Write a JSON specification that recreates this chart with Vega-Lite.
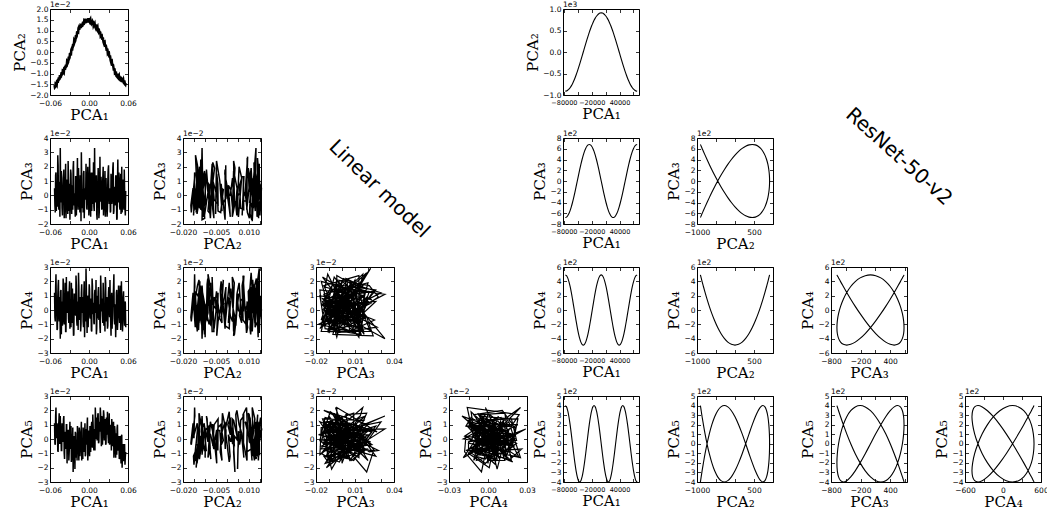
{
"$schema":"https://vega.github.io/schema/vega-lite/v6.json",
"padding":{"left":12,"top":0,"right":0,"bottom":0},
"background":"white",
"config":{
 "view":{"stroke":"black","strokeWidth":1},
 "axis":{"grid":false,"domain":false,"tickSize":-3.5,"tickColor":"black","tickWidth":0.8,"labelPadding":5.5,"labelFont":"DejaVu Sans","labelFontSize":7.5,"labelColor":"black","labelOverlap":false,"labelFlush":false,"labelBound":false,"titleFont":"DejaVu Serif","titleFontSize":15,"titleFontWeight":"normal","titleColor":"black","titlePadding":2},
 "axisBottom":{"labelPadding":7.8,"titlePadding":1},
 "axisTop":{"labels":false},
 "axisRight":{"labels":false},
 "title":{"font":"DejaVu Sans","fontSize":7.5,"fontWeight":"normal","anchor":"start","offset":-3,"color":"black","frame":"group"},
 "line":{"color":"black","clip":true}
},
"datasets":{
"lin":[
{"i":0,"p1":-0.053,"p2":-0.0154,"p3":0.005,"p4":0.012,"p5":0.011},
{"i":1,"p1":-0.0519,"p2":-0.0162,"p3":-0.012,"p4":-0.008,"p5":-0.004},
{"i":2,"p1":-0.0508,"p2":-0.0147,"p3":0.016,"p4":0.025,"p5":0.022},
{"i":3,"p1":-0.0497,"p2":-0.0153,"p3":0.002,"p4":0.003,"p5":0.001},
{"i":4,"p1":-0.0486,"p2":-0.0133,"p3":-0.008,"p4":-0.013,"p5":0.008},
{"i":5,"p1":-0.0475,"p2":-0.0134,"p3":0.021,"p4":0.017,"p5":-0.009},
{"i":6,"p1":-0.0464,"p2":-0.0119,"p3":-0.010,"p4":-0.004,"p5":0.012},
{"i":7,"p1":-0.0453,"p2":-0.0125,"p3":0.009,"p4":0.009,"p5":-0.003},
{"i":8,"p1":-0.0442,"p2":-0.0113,"p3":0.033,"p4":-0.020,"p5":0.016},
{"i":9,"p1":-0.0431,"p2":-0.0115,"p3":-0.005,"p4":0.014,"p5":0.003},
{"i":10,"p1":-0.042,"p2":-0.0094,"p3":0.012,"p4":0.001,"p5":-0.008},
{"i":11,"p1":-0.0409,"p2":-0.0102,"p3":-0.014,"p4":-0.011,"p5":0.009},
{"i":12,"p1":-0.0398,"p2":-0.0087,"p3":0.003,"p4":0.022,"p5":-0.001},
{"i":13,"p1":-0.0387,"p2":-0.0093,"p3":0.018,"p4":-0.006,"p5":0.016},
{"i":14,"p1":-0.0376,"p2":-0.0073,"p3":-0.009,"p4":0.007,"p5":-0.014},
{"i":15,"p1":-0.0365,"p2":-0.0074,"p3":0.006,"p4":0.019,"p5":0.003},
{"i":16,"p1":-0.0354,"p2":-0.0059,"p3":-0.016,"p4":-0.015,"p5":-0.007},
{"i":17,"p1":-0.0343,"p2":-0.0065,"p3":0.011,"p4":0.004,"p5":0.010},
{"i":18,"p1":-0.0332,"p2":-0.0049,"p3":0.000,"p4":-0.002,"p5":-0.002},
{"i":19,"p1":-0.0321,"p2":-0.0047,"p3":0.024,"p4":0.013,"p5":0.006},
{"i":20,"p1":-0.031,"p2":-0.0022,"p3":-0.011,"p4":-0.009,"p5":-0.015},
{"i":21,"p1":-0.0299,"p2":-0.0026,"p3":0.008,"p4":0.020,"p5":0.003},
{"i":22,"p1":-0.0288,"p2":-0.0007,"p3":-0.003,"p4":0.002,"p5":-0.007},
{"i":23,"p1":-0.0277,"p2":-0.0009,"p3":0.015,"p4":-0.012,"p5":0.009},
{"i":24,"p1":-0.0266,"p2":0.0015,"p3":-0.013,"p4":0.008,"p5":-0.012},
{"i":25,"p1":-0.0255,"p2":0.0018,"p3":0.004,"p4":0.015,"p5":-0.002},
{"i":26,"p1":-0.0244,"p2":0.0037,"p3":0.019,"p4":-0.005,"p5":-0.023},
{"i":27,"p1":-0.0233,"p2":0.0035,"p3":-0.007,"p4":-0.017,"p5":0.002},
{"i":28,"p1":-0.0222,"p2":0.0051,"p3":0.001,"p4":0.011,"p5":-0.007},
{"i":29,"p1":-0.0211,"p2":0.0053,"p3":-0.015,"p4":0.000,"p5":0.005},
{"i":30,"p1":-0.02,"p2":0.0078,"p3":0.013,"p4":0.024,"p5":-0.013},
{"i":31,"p1":-0.0189,"p2":0.0074,"p3":-0.002,"p4":-0.007,"p5":-0.001},
{"i":32,"p1":-0.0178,"p2":0.0093,"p3":0.026,"p4":0.006,"p5":0.009},
{"i":33,"p1":-0.0167,"p2":0.0091,"p3":-0.010,"p4":-0.014,"p5":-0.009},
{"i":34,"p1":-0.0156,"p2":0.0115,"p3":0.007,"p4":0.016,"p5":-0.015},
{"i":35,"p1":-0.0145,"p2":0.0112,"p3":-0.006,"p4":-0.001,"p5":0.005},
{"i":36,"p1":-0.0134,"p2":0.0125,"p3":0.014,"p4":0.009,"p5":-0.006},
{"i":37,"p1":-0.0123,"p2":0.0116,"p3":-0.018,"p4":-0.010,"p5":0.003},
{"i":38,"p1":-0.0112,"p2":0.0126,"p3":0.009,"p4":0.018,"p5":-0.015},
{"i":39,"p1":-0.0101,"p2":0.0122,"p3":0.002,"p4":0.003,"p5":0.000},
{"i":40,"p1":-0.009,"p2":0.014,"p3":-0.012,"p4":-0.008,"p5":0.008},
{"i":41,"p1":-0.0079,"p2":0.013,"p3":0.017,"p4":0.012,"p5":-0.009},
{"i":42,"p1":-0.0068,"p2":0.0143,"p3":-0.004,"p4":-0.019,"p5":0.000},
{"i":43,"p1":-0.0057,"p2":0.0133,"p3":0.005,"p4":0.005,"p5":-0.012},
{"i":44,"p1":-0.0046,"p2":0.0148,"p3":0.022,"p4":0.029,"p5":0.007},
{"i":45,"p1":-0.0035,"p2":0.0143,"p3":-0.009,"p4":-0.003,"p5":-0.004},
{"i":46,"p1":-0.0024,"p2":0.0154,"p3":0.000,"p4":0.010,"p5":0.015},
{"i":47,"p1":-0.0013,"p2":0.0143,"p3":0.011,"p4":-0.012,"p5":-0.007},
{"i":48,"p1":-0.0002,"p2":0.0151,"p3":-0.014,"p4":0.007,"p5":0.005},
{"i":49,"p1":0.0009,"p2":0.014,"p3":0.026,"p4":0.014,"p5":-0.012},
{"i":50,"p1":0.002,"p2":0.0152,"p3":-0.003,"p4":-0.006,"p5":0.005},
{"i":51,"p1":0.0031,"p2":0.0135,"p3":0.008,"p4":0.002,"p5":-0.001},
{"i":52,"p1":0.0042,"p2":0.0142,"p3":-0.011,"p4":-0.015,"p5":0.012},
{"i":53,"p1":0.0053,"p2":0.0127,"p3":0.016,"p4":0.017,"p5":-0.006},
{"i":54,"p1":0.0064,"p2":0.0138,"p3":0.003,"p4":0.004,"p5":0.009},
{"i":55,"p1":0.0075,"p2":0.0128,"p3":-0.008,"p4":-0.009,"p5":-0.008},
{"i":56,"p1":0.0086,"p2":0.0133,"p3":0.033,"p4":0.011,"p5":0.007},
{"i":57,"p1":0.0097,"p2":0.0116,"p3":-0.005,"p4":-0.002,"p5":0.022},
{"i":58,"p1":0.0108,"p2":0.0118,"p3":0.010,"p4":0.021,"p5":0.000},
{"i":59,"p1":0.0119,"p2":0.0106,"p3":-0.013,"p4":-0.013,"p5":0.015},
{"i":60,"p1":0.013,"p2":0.0117,"p3":0.006,"p4":0.006,"p5":0.002},
{"i":61,"p1":0.0141,"p2":0.0098,"p3":0.019,"p4":0.013,"p5":0.018},
{"i":62,"p1":0.0152,"p2":0.0103,"p3":-0.016,"p4":-0.007,"p5":-0.002},
{"i":63,"p1":0.0163,"p2":0.0084,"p3":0.002,"p4":0.000,"p5":0.012},
{"i":64,"p1":0.0174,"p2":0.009,"p3":-0.004,"p4":-0.016,"p5":0.022},
{"i":65,"p1":0.0185,"p2":0.0076,"p3":0.013,"p4":0.015,"p5":0.005},
{"i":66,"p1":0.0196,"p2":0.0077,"p3":-0.010,"p4":0.008,"p5":0.016},
{"i":67,"p1":0.0207,"p2":0.0058,"p3":0.007,"p4":-0.004,"p5":-0.004},
{"i":68,"p1":0.0218,"p2":0.0056,"p3":0.020,"p4":0.019,"p5":0.010},
{"i":69,"p1":0.0229,"p2":0.0041,"p3":-0.007,"p4":-0.011,"p5":0.017},
{"i":70,"p1":0.024,"p2":0.0048,"p3":0.004,"p4":0.003,"p5":0.001},
{"i":71,"p1":0.0251,"p2":0.0025,"p3":-0.015,"p4":0.023,"p5":0.014},
{"i":72,"p1":0.0262,"p2":0.0026,"p3":0.012,"p4":-0.008,"p5":-0.003},
{"i":73,"p1":0.0273,"p2":0.0005,"p3":0.001,"p4":0.009,"p5":0.010},
{"i":74,"p1":0.0284,"p2":0.0011,"p3":-0.009,"p4":-0.013,"p5":0.019},
{"i":75,"p1":0.0295,"p2":-0.0005,"p3":0.018,"p4":0.005,"p5":0.001},
{"i":76,"p1":0.0306,"p2":-0.0004,"p3":-0.002,"p4":0.016,"p5":0.006},
{"i":77,"p1":0.0317,"p2":-0.0025,"p3":0.005,"p4":-0.005,"p5":-0.004},
{"i":78,"p1":0.0328,"p2":-0.0028,"p3":-0.012,"p4":0.001,"p5":0.010},
{"i":79,"p1":0.0339,"p2":-0.0046,"p3":0.015,"p4":-0.018,"p5":0.002},
{"i":80,"p1":0.035,"p2":-0.004,"p3":-0.006,"p4":0.012,"p5":0.014},
{"i":81,"p1":0.0361,"p2":-0.0064,"p3":0.009,"p4":-0.003,"p5":-0.005},
{"i":82,"p1":0.0372,"p2":-0.0064,"p3":0.023,"p4":0.007,"p5":0.005},
{"i":83,"p1":0.0383,"p2":-0.0086,"p3":-0.011,"p4":0.025,"p5":-0.013},
{"i":84,"p1":0.0394,"p2":-0.0081,"p3":0.003,"p4":-0.010,"p5":0.009},
{"i":85,"p1":0.0405,"p2":-0.0098,"p3":-0.005,"p4":0.004,"p5":-0.001},
{"i":86,"p1":0.0416,"p2":-0.0098,"p3":0.014,"p4":-0.006,"p5":0.004},
{"i":87,"p1":0.0427,"p2":-0.0113,"p3":-0.017,"p4":0.014,"p5":-0.011},
{"i":88,"p1":0.0438,"p2":-0.011,"p3":0.008,"p4":-0.014,"p5":0.010},
{"i":89,"p1":0.0449,"p2":-0.0121,"p3":0.000,"p4":0.002,"p5":-0.007},
{"i":90,"p1":0.046,"p2":-0.011,"p3":0.016,"p4":0.010,"p5":0.002},
{"i":91,"p1":0.0471,"p2":-0.0127,"p3":-0.008,"p4":-0.009,"p5":-0.012},
{"i":92,"p1":0.0482,"p2":-0.0121,"p3":0.006,"p4":0.017,"p5":-0.003},
{"i":93,"p1":0.0493,"p2":-0.0136,"p3":-0.013,"p4":-0.002,"p5":-0.017},
{"i":94,"p1":0.0504,"p2":-0.0125,"p3":0.020,"p4":0.006,"p5":0.003},
{"i":95,"p1":0.0515,"p2":-0.0135,"p3":-0.004,"p4":-0.015,"p5":-0.010},
{"i":96,"p1":0.0526,"p2":-0.0129,"p3":0.011,"p4":0.009,"p5":-0.004},
{"i":97,"p1":0.0537,"p2":-0.0144,"p3":-0.010,"p4":0.000,"p5":-0.015},
{"i":98,"p1":0.0548,"p2":-0.0141,"p3":0.004,"p4":-0.011,"p5":-0.004},
{"i":99,"p1":0.0559,"p2":-0.0152,"p3":-0.014,"p4":0.005,"p5":-0.012},
{"i":0.5,"p1":-0.05245,"p2":-0.0164,"p3":-0.007,"p4":-0.005,"p5":-0.003},
{"i":1.5,"p1":-0.05135,"p2":-0.0146,"p3":0.014,"p4":0.016,"p5":0.016},
{"i":2.5,"p1":-0.05025,"p2":-0.015,"p3":-0.011,"p4":0.002,"p5":0.001},
{"i":3.5,"p1":-0.04915,"p2":-0.0135,"p3":0.006,"p4":-0.014,"p5":0.011},
{"i":4.5,"p1":-0.04805,"p2":-0.0143,"p3":0.028,"p4":0.009,"p5":-0.008},
{"i":5.5,"p1":-0.04695,"p2":-0.0127,"p3":-0.004,"p4":0.021,"p5":0.008},
{"i":6.5,"p1":-0.04585,"p2":-0.0127,"p3":0.009,"p4":-0.008,"p5":0.018},
{"i":7.5,"p1":-0.04475,"p2":-0.0108,"p3":-0.015,"p4":0.004,"p5":-0.003},
{"i":8.5,"p1":-0.04365,"p2":-0.0117,"p3":0.003,"p4":0.013,"p5":0.005},
{"i":9.5,"p1":-0.04255,"p2":-0.0102,"p3":0.017,"p4":-0.017,"p5":-0.008},
{"i":10.5,"p1":-0.04145,"p2":-0.0104,"p3":-0.009,"p4":0.006,"p5":0.011},
{"i":11.5,"p1":-0.04035,"p2":-0.0086,"p3":0.002,"p4":-0.002,"p5":-0.002},
{"i":12.5,"p1":-0.03925,"p2":-0.009,"p3":0.012,"p4":0.018,"p5":0.014},
{"i":13.5,"p1":-0.03815,"p2":-0.0075,"p3":-0.016,"p4":-0.010,"p5":-0.010},
{"i":14.5,"p1":-0.03705,"p2":-0.0083,"p3":0.008,"p4":0.003,"p5":0.005},
{"i":15.5,"p1":-0.03595,"p2":-0.0067,"p3":0.022,"p4":-0.015,"p5":-0.002},
{"i":16.5,"p1":-0.03485,"p2":-0.0067,"p3":-0.006,"p4":0.023,"p5":0.010},
{"i":17.5,"p1":-0.03375,"p2":-0.0046,"p3":0.000,"p4":0.000,"p5":-0.017},
{"i":18.5,"p1":-0.03265,"p2":-0.0051,"p3":-0.013,"p4":0.008,"p5":0.002},
{"i":19.5,"p1":-0.03155,"p2":-0.0032,"p3":0.010,"p4":-0.006,"p5":0.006},
{"i":20.5,"p1":-0.03045,"p2":-0.003,"p3":0.005,"p4":0.014,"p5":-0.009},
{"i":21.5,"p1":-0.02935,"p2":-0.0008,"p3":-0.017,"p4":-0.013,"p5":0.012},
{"i":22.5,"p1":-0.02825,"p2":-0.0008,"p3":0.018,"p4":0.005,"p5":-0.004},
{"i":23.5,"p1":-0.02715,"p2":0.0011,"p3":-0.002,"p4":0.019,"p5":-0.016},
{"i":24.5,"p1":-0.02605,"p2":0.0007,"p3":0.007,"p4":-0.009,"p5":0.003},
{"i":25.5,"p1":-0.02495,"p2":0.0027,"p3":-0.010,"p4":0.002,"p5":0.008},
{"i":26.5,"p1":-0.02385,"p2":0.0031,"p3":0.024,"p4":-0.018,"p5":-0.009},
{"i":27.5,"p1":-0.02275,"p2":0.0054,"p3":0.001,"p4":0.011,"p5":-0.002},
{"i":28.5,"p1":-0.02165,"p2":0.0049,"p3":-0.008,"p4":0.007,"p5":-0.021},
{"i":29.5,"p1":-0.02055,"p2":0.0068,"p3":0.013,"p4":-0.004,"p5":0.004},
{"i":30.5,"p1":-0.01945,"p2":0.007,"p3":-0.014,"p4":0.017,"p5":-0.001},
{"i":31.5,"p1":-0.01835,"p2":0.0092,"p3":0.006,"p4":-0.011,"p5":-0.015},
{"i":32.5,"p1":-0.01725,"p2":0.0092,"p3":0.000,"p4":0.004,"p5":0.002},
{"i":33.5,"p1":-0.01615,"p2":0.0111,"p3":0.019,"p4":0.026,"p5":-0.007},
{"i":34.5,"p1":-0.01505,"p2":0.0104,"p3":-0.005,"p4":-0.007,"p5":0.008},
{"i":35.5,"p1":-0.01395,"p2":0.0118,"p3":-0.012,"p4":0.001,"p5":-0.012},
{"i":36.5,"p1":-0.01285,"p2":0.0116,"p3":0.008,"p4":-0.015,"p5":-0.003},
{"i":37.5,"p1":-0.01175,"p2":0.0132,"p3":0.030,"p4":0.012,"p5":0.012},
{"i":38.5,"p1":-0.01065,"p2":0.0121,"p3":-0.009,"p4":-0.002,"p5":-0.009},
{"i":39.5,"p1":-0.00955,"p2":0.0134,"p3":0.004,"p4":0.009,"p5":-0.014},
{"i":40.5,"p1":-0.00845,"p2":0.0129,"p3":0.015,"p4":-0.012,"p5":0.002},
{"i":41.5,"p1":-0.00735,"p2":0.0145,"p3":-0.016,"p4":0.020,"p5":-0.005},
{"i":42.5,"p1":-0.00625,"p2":0.0138,"p3":0.002,"p4":0.003,"p5":0.011},
{"i":43.5,"p1":-0.00515,"p2":0.0149,"p3":-0.003,"p4":-0.008,"p5":-0.011},
{"i":44.5,"p1":-0.00405,"p2":0.0136,"p3":0.011,"p4":0.015,"p5":0.002},
{"i":45.5,"p1":-0.00295,"p2":0.0148,"p3":-0.010,"p4":-0.016,"p5":0.009},
{"i":46.5,"p1":-0.00185,"p2":0.0144,"p3":0.020,"p4":0.006,"p5":-0.015},
{"i":47.5,"p1":-0.00075,"p2":0.0158,"p3":0.005,"p4":0.000,"p5":0.006},
{"i":48.5,"p1":0.00035,"p2":0.0143,"p3":-0.007,"p4":0.018,"p5":-0.004},
{"i":49.5,"p1":0.00145,"p2":0.0149,"p3":0.009,"p4":-0.005,"p5":0.009},
{"i":50.5,"p1":0.00255,"p2":0.0138,"p3":-0.015,"p4":0.008,"p5":-0.009},
{"i":51.5,"p1":0.00365,"p2":0.0147,"p3":0.016,"p4":-0.014,"p5":0.009},
{"i":52.5,"p1":0.00475,"p2":0.0135,"p3":0.001,"p4":0.022,"p5":-0.003},
{"i":53.5,"p1":0.00585,"p2":0.0141,"p3":-0.006,"p4":-0.003,"p5":0.017},
{"i":54.5,"p1":0.00695,"p2":0.0124,"p3":0.023,"p4":0.005,"p5":-0.004},
{"i":55.5,"p1":0.00805,"p2":0.013,"p3":-0.011,"p4":-0.010,"p5":0.006},
{"i":56.5,"p1":0.00915,"p2":0.012,"p3":0.007,"p4":0.014,"p5":-0.008},
{"i":57.5,"p1":0.01025,"p2":0.0128,"p3":-0.002,"p4":0.002,"p5":0.014},
{"i":58.5,"p1":0.01135,"p2":0.0109,"p3":0.014,"p4":-0.017,"p5":0.009},
{"i":59.5,"p1":0.01245,"p2":0.0114,"p3":-0.017,"p4":0.010,"p5":-0.001},
{"i":60.5,"p1":0.01355,"p2":0.0102,"p3":0.003,"p4":-0.006,"p5":0.017},
{"i":61.5,"p1":0.01465,"p2":0.0109,"p3":0.009,"p4":0.016,"p5":-0.003},
{"i":62.5,"p1":0.01575,"p2":0.0094,"p3":-0.012,"p4":0.004,"p5":0.010},
{"i":63.5,"p1":0.01685,"p2":0.0095,"p3":0.027,"p4":-0.012,"p5":0.005},
{"i":64.5,"p1":0.01795,"p2":0.0074,"p3":-0.004,"p4":0.024,"p5":0.017},
{"i":65.5,"p1":0.01905,"p2":0.0076,"p3":0.006,"p4":-0.001,"p5":-0.005},
{"i":66.5,"p1":0.02015,"p2":0.0063,"p3":-0.009,"p4":0.007,"p5":0.013},
{"i":67.5,"p1":0.02125,"p2":0.0068,"p3":0.012,"p4":-0.009,"p5":0.004},
{"i":68.5,"p1":0.02235,"p2":0.0046,"p3":-0.014,"p4":0.011,"p5":0.020},
{"i":69.5,"p1":0.02345,"p2":0.0047,"p3":0.005,"p4":0.003,"p5":-0.001},
{"i":70.5,"p1":0.02455,"p2":0.0031,"p3":0.017,"p4":-0.015,"p5":0.013},
{"i":71.5,"p1":0.02565,"p2":0.0034,"p3":-0.008,"p4":0.019,"p5":-0.004},
{"i":72.5,"p1":0.02675,"p2":0.0016,"p3":0.000,"p4":-0.004,"p5":0.015},
{"i":73.5,"p1":0.02785,"p2":0.0016,"p3":-0.015,"p4":0.006,"p5":0.003},
{"i":74.5,"p1":0.02895,"p2":-0.0007,"p3":0.010,"p4":-0.011,"p5":0.007},
{"i":75.5,"p1":0.03005,"p2":-0.0005,"p3":0.021,"p4":0.013,"p5":-0.003},
{"i":76.5,"p1":0.03115,"p2":-0.002,"p3":-0.006,"p4":0.000,"p5":0.018},
{"i":77.5,"p1":0.03225,"p2":-0.0016,"p3":0.004,"p4":0.021,"p5":-0.001},
{"i":78.5,"p1":0.03335,"p2":-0.004,"p3":-0.011,"p4":-0.008,"p5":0.008},
{"i":79.5,"p1":0.03445,"p2":-0.0041,"p3":0.008,"p4":0.005,"p5":-0.008},
{"i":80.5,"p1":0.03555,"p2":-0.0058,"p3":-0.003,"p4":-0.013,"p5":0.010},
{"i":81.5,"p1":0.03665,"p2":-0.0056,"p3":0.019,"p4":0.009,"p5":0.000},
{"i":82.5,"p1":0.03775,"p2":-0.0075,"p3":-0.013,"p4":0.016,"p5":0.012},
{"i":83.5,"p1":0.03885,"p2":-0.0076,"p3":0.006,"p4":-0.006,"p5":-0.007},
{"i":84.5,"p1":0.03995,"p2":-0.0099,"p3":-0.007,"p4":0.002,"p5":0.006},
{"i":85.5,"p1":0.04105,"p2":-0.0099,"p3":0.013,"p4":-0.019,"p5":-0.013},
{"i":86.5,"p1":0.04215,"p2":-0.0111,"p3":0.002,"p4":0.012,"p5":0.002},
{"i":87.5,"p1":0.04325,"p2":-0.0101,"p3":-0.016,"p4":0.004,"p5":0.008},
{"i":88.5,"p1":0.04435,"p2":-0.0119,"p3":0.025,"p4":-0.007,"p5":-0.008},
{"i":89.5,"p1":0.04545,"p2":-0.0113,"p3":-0.005,"p4":0.017,"p5":-0.001},
{"i":90.5,"p1":0.04655,"p2":-0.0125,"p3":0.007,"p4":-0.002,"p5":-0.014},
{"i":91.5,"p1":0.04765,"p2":-0.0116,"p3":-0.010,"p4":0.008,"p5":0.002},
{"i":92.5,"p1":0.04875,"p2":-0.0129,"p3":0.015,"p4":-0.014,"p5":-0.009},
{"i":93.5,"p1":0.04985,"p2":-0.0123,"p3":0.000,"p4":0.020,"p5":0.002},
{"i":94.5,"p1":0.05095,"p2":-0.014,"p3":-0.012,"p4":0.001,"p5":-0.020},
{"i":95.5,"p1":0.05205,"p2":-0.0133,"p3":0.009,"p4":-0.009,"p5":-0.004},
{"i":96.5,"p1":0.05315,"p2":-0.0142,"p3":-0.004,"p4":0.013,"p5":-0.015},
{"i":97.5,"p1":0.05425,"p2":-0.0132,"p3":0.018,"p4":-0.005,"p5":-0.004},
{"i":98.5,"p1":0.05535,"p2":-0.015,"p3":-0.009,"p4":0.006,"p5":-0.018},
{"i":99.5,"p1":0.05645,"p2":-0.0144,"p3":0.003,"p4":-0.012,"p5":-0.009}
],
"res":[
{"k":0,"r1":-77000,"r2":-910,"r3":-680,"r4":490,"r5":400},
{"k":1,"r1":-74417,"r2":-905,"r3":-672,"r4":479,"r5":386},
{"k":2,"r1":-71833,"r2":-890,"r3":-647,"r4":448,"r5":346},
{"k":3,"r1":-69250,"r2":-866,"r3":-606,"r4":396,"r5":283},
{"k":4,"r1":-66667,"r2":-831,"r3":-550,"r4":328,"r5":200},
{"k":5,"r1":-64083,"r2":-788,"r3":-481,"r4":245,"r5":104},
{"k":6,"r1":-61500,"r2":-736,"r3":-400,"r4":151,"r5":0},
{"k":7,"r1":-58917,"r2":-676,"r3":-309,"r4":51,"r5":-104},
{"k":8,"r1":-56333,"r2":-609,"r3":-210,"r4":-51,"r5":-200},
{"k":9,"r1":-53750,"r2":-535,"r3":-106,"r4":-151,"r5":-283},
{"k":10,"r1":-51167,"r2":-455,"r3":0,"r4":-245,"r5":-346},
{"k":11,"r1":-48583,"r2":-370,"r3":106,"r4":-328,"r5":-386},
{"k":12,"r1":-46000,"r2":-281,"r3":210,"r4":-396,"r5":-400},
{"k":13,"r1":-43417,"r2":-189,"r3":309,"r4":-448,"r5":-386},
{"k":14,"r1":-40833,"r2":-95,"r3":400,"r4":-479,"r5":-346},
{"k":15,"r1":-38250,"r2":0,"r3":481,"r4":-490,"r5":-283},
{"k":16,"r1":-35667,"r2":95,"r3":550,"r4":-479,"r5":-200},
{"k":17,"r1":-33083,"r2":189,"r3":606,"r4":-448,"r5":-104},
{"k":18,"r1":-30500,"r2":281,"r3":647,"r4":-396,"r5":0},
{"k":19,"r1":-27917,"r2":370,"r3":672,"r4":-328,"r5":104},
{"k":20,"r1":-25333,"r2":455,"r3":680,"r4":-245,"r5":200},
{"k":21,"r1":-22750,"r2":535,"r3":672,"r4":-151,"r5":283},
{"k":22,"r1":-20167,"r2":609,"r3":647,"r4":-51,"r5":346},
{"k":23,"r1":-17583,"r2":676,"r3":606,"r4":51,"r5":386},
{"k":24,"r1":-15000,"r2":736,"r3":550,"r4":151,"r5":400},
{"k":25,"r1":-12417,"r2":788,"r3":481,"r4":245,"r5":386},
{"k":26,"r1":-9833,"r2":831,"r3":400,"r4":328,"r5":346},
{"k":27,"r1":-7250,"r2":866,"r3":309,"r4":396,"r5":283},
{"k":28,"r1":-4667,"r2":890,"r3":210,"r4":448,"r5":200},
{"k":29,"r1":-2083,"r2":905,"r3":106,"r4":479,"r5":104},
{"k":30,"r1":500,"r2":910,"r3":0,"r4":490,"r5":0},
{"k":31,"r1":3083,"r2":905,"r3":-106,"r4":479,"r5":-104},
{"k":32,"r1":5667,"r2":890,"r3":-210,"r4":448,"r5":-200},
{"k":33,"r1":8250,"r2":866,"r3":-309,"r4":396,"r5":-283},
{"k":34,"r1":10833,"r2":831,"r3":-400,"r4":328,"r5":-346},
{"k":35,"r1":13417,"r2":788,"r3":-481,"r4":245,"r5":-386},
{"k":36,"r1":16000,"r2":736,"r3":-550,"r4":151,"r5":-400},
{"k":37,"r1":18583,"r2":676,"r3":-606,"r4":51,"r5":-386},
{"k":38,"r1":21167,"r2":609,"r3":-647,"r4":-51,"r5":-346},
{"k":39,"r1":23750,"r2":535,"r3":-672,"r4":-151,"r5":-283},
{"k":40,"r1":26333,"r2":455,"r3":-680,"r4":-245,"r5":-200},
{"k":41,"r1":28917,"r2":370,"r3":-672,"r4":-328,"r5":-104},
{"k":42,"r1":31500,"r2":281,"r3":-647,"r4":-396,"r5":0},
{"k":43,"r1":34083,"r2":189,"r3":-606,"r4":-448,"r5":104},
{"k":44,"r1":36667,"r2":95,"r3":-550,"r4":-479,"r5":200},
{"k":45,"r1":39250,"r2":0,"r3":-481,"r4":-490,"r5":283},
{"k":46,"r1":41833,"r2":-95,"r3":-400,"r4":-479,"r5":346},
{"k":47,"r1":44417,"r2":-189,"r3":-309,"r4":-448,"r5":386},
{"k":48,"r1":47000,"r2":-281,"r3":-210,"r4":-396,"r5":400},
{"k":49,"r1":49583,"r2":-370,"r3":-106,"r4":-328,"r5":386},
{"k":50,"r1":52167,"r2":-455,"r3":0,"r4":-245,"r5":346},
{"k":51,"r1":54750,"r2":-535,"r3":106,"r4":-151,"r5":283},
{"k":52,"r1":57333,"r2":-609,"r3":210,"r4":-51,"r5":200},
{"k":53,"r1":59917,"r2":-676,"r3":309,"r4":51,"r5":104},
{"k":54,"r1":62500,"r2":-736,"r3":400,"r4":151,"r5":0},
{"k":55,"r1":65083,"r2":-788,"r3":481,"r4":245,"r5":-104},
{"k":56,"r1":67667,"r2":-831,"r3":550,"r4":328,"r5":-200},
{"k":57,"r1":70250,"r2":-866,"r3":606,"r4":396,"r5":-283},
{"k":58,"r1":72833,"r2":-890,"r3":647,"r4":448,"r5":-346},
{"k":59,"r1":75417,"r2":-905,"r3":672,"r4":479,"r5":-386},
{"k":60,"r1":78000,"r2":-910,"r3":680,"r4":490,"r5":-400}
]},
"spacing":-11,
"hconcat":[
{"bounds":"flush","columns":4,"spacing":{"row":43,"column":55},"concat":[
  {"width":78,"height":86,"data":{"name":"lin"},"title":"1e−2","resolve":{"axis":{"x":"independent","y":"independent"}},"layer":[
   {"mark":{"type":"line","strokeWidth":2.5},"encoding":{
    "x":{"field":"p1","type":"quantitative","scale":{"domain":[-0.06,0.06],"nice":false},"axis":{"values":[-0.06,-0.03,0,0.03,0.06],"format":".2f","labelExpr":"round(datum.index*4)%2==0?datum.label:''","title":"PCA₁"}},
    "y":{"field":"p2","type":"quantitative","scale":{"domain":[-0.02,0.02],"nice":false},"axis":{"values":[-0.02,-0.015,-0.01,-0.005,0,0.005,0.01,0.015,0.02],"labelExpr":"format(datum.value*100,'.1f')","title":"PCA₂"}},
    "order":{"field":"i"}}},
   {"mark":{"type":"line","opacity":0},"encoding":{
    "x":{"field":"p1","type":"quantitative","scale":{"domain":[-0.06,0.06],"nice":false},"axis":{"orient":"top","values":[-0.06,-0.03,0,0.03,0.06],"title":null}},
    "y":{"field":"p2","type":"quantitative","scale":{"domain":[-0.02,0.02],"nice":false},"axis":{"orient":"right","values":[-0.02,-0.015,-0.01,-0.005,0,0.005,0.01,0.015,0.02],"title":null}}}}
  ]},
  {"width":78,"height":86,"view":{"stroke":null},"data":{"values":[{}]},"mark":{"type":"text"},"encoding":{"text":{"value":""}}},
  {"width":78,"height":86,"view":{"stroke":null},"data":{"values":[{}]},"mark":{"type":"text"},"encoding":{"text":{"value":""}}},
  {"width":78,"height":86,"view":{"stroke":null},"data":{"values":[{}]},"mark":{"type":"text"},"encoding":{"text":{"value":""}}},
  {"width":78,"height":86,"data":{"name":"lin"},"title":"1e−2","resolve":{"axis":{"x":"independent","y":"independent"}},"layer":[
   {"mark":{"type":"line","strokeWidth":1.5},"encoding":{
    "x":{"field":"p1","type":"quantitative","scale":{"domain":[-0.06,0.06],"nice":false},"axis":{"values":[-0.06,-0.03,0,0.03,0.06],"format":".2f","labelExpr":"round(datum.index*4)%2==0?datum.label:''","title":"PCA₁"}},
    "y":{"field":"p3","type":"quantitative","scale":{"domain":[-0.02,0.04],"nice":false},"axis":{"values":[-0.02,-0.01,0,0.01,0.02,0.03,0.04],"labelExpr":"format(datum.value*100,'d')","title":"PCA₃"}},
    "order":{"field":"i"}}},
   {"mark":{"type":"line","opacity":0},"encoding":{
    "x":{"field":"p1","type":"quantitative","scale":{"domain":[-0.06,0.06],"nice":false},"axis":{"orient":"top","values":[-0.06,-0.03,0,0.03,0.06],"title":null}},
    "y":{"field":"p3","type":"quantitative","scale":{"domain":[-0.02,0.04],"nice":false},"axis":{"orient":"right","values":[-0.02,-0.01,0,0.01,0.02,0.03,0.04],"title":null}}}}
  ]},
  {"width":78,"height":86,"data":{"name":"lin"},"title":"1e−2","resolve":{"axis":{"x":"independent","y":"independent"}},"layer":[
   {"mark":{"type":"line","strokeWidth":1.5},"encoding":{
    "x":{"field":"p2","type":"quantitative","scale":{"domain":[-0.02,0.0156],"nice":false},"axis":{"values":[-0.02,-0.015,-0.01,-0.005,0,0.005,0.01,0.015],"format":".3f","labelExpr":"round(datum.index*7)%3==0?datum.label:''","title":"PCA₂"}},
    "y":{"field":"p3","type":"quantitative","scale":{"domain":[-0.02,0.04],"nice":false},"axis":{"values":[-0.02,-0.01,0,0.01,0.02,0.03,0.04],"labelExpr":"format(datum.value*100,'d')","title":"PCA₃"}},
    "order":{"field":"i"}}},
   {"mark":{"type":"line","opacity":0},"encoding":{
    "x":{"field":"p2","type":"quantitative","scale":{"domain":[-0.02,0.0156],"nice":false},"axis":{"orient":"top","values":[-0.02,-0.015,-0.01,-0.005,0,0.005,0.01,0.015],"title":null}},
    "y":{"field":"p3","type":"quantitative","scale":{"domain":[-0.02,0.04],"nice":false},"axis":{"orient":"right","values":[-0.02,-0.01,0,0.01,0.02,0.03,0.04],"title":null}}}}
  ]},
  {"width":78,"height":86,"view":{"stroke":null},"data":{"values":[{"label":"Linear model"}]},"mark":{"type":"text","font":"DejaVu Sans","fontSize":20,"angle":44,"align":"center","baseline":"middle","dx":23,"dy":-11,"color":"black"},"encoding":{"text":{"field":"label","type":"nominal"}}},
  {"width":78,"height":86,"view":{"stroke":null},"data":{"values":[{}]},"mark":{"type":"text"},"encoding":{"text":{"value":""}}},
  {"width":78,"height":86,"data":{"name":"lin"},"title":"1e−2","resolve":{"axis":{"x":"independent","y":"independent"}},"layer":[
   {"mark":{"type":"line","strokeWidth":1.5},"encoding":{
    "x":{"field":"p1","type":"quantitative","scale":{"domain":[-0.06,0.06],"nice":false},"axis":{"values":[-0.06,-0.03,0,0.03,0.06],"format":".2f","labelExpr":"round(datum.index*4)%2==0?datum.label:''","title":"PCA₁"}},
    "y":{"field":"p4","type":"quantitative","scale":{"domain":[-0.03,0.03],"nice":false},"axis":{"values":[-0.03,-0.02,-0.01,0,0.01,0.02,0.03],"labelExpr":"format(datum.value*100,'d')","title":"PCA₄"}},
    "order":{"field":"i"}}},
   {"mark":{"type":"line","opacity":0},"encoding":{
    "x":{"field":"p1","type":"quantitative","scale":{"domain":[-0.06,0.06],"nice":false},"axis":{"orient":"top","values":[-0.06,-0.03,0,0.03,0.06],"title":null}},
    "y":{"field":"p4","type":"quantitative","scale":{"domain":[-0.03,0.03],"nice":false},"axis":{"orient":"right","values":[-0.03,-0.02,-0.01,0,0.01,0.02,0.03],"title":null}}}}
  ]},
  {"width":78,"height":86,"data":{"name":"lin"},"title":"1e−2","resolve":{"axis":{"x":"independent","y":"independent"}},"layer":[
   {"mark":{"type":"line","strokeWidth":1.5},"encoding":{
    "x":{"field":"p2","type":"quantitative","scale":{"domain":[-0.02,0.0156],"nice":false},"axis":{"values":[-0.02,-0.015,-0.01,-0.005,0,0.005,0.01,0.015],"format":".3f","labelExpr":"round(datum.index*7)%3==0?datum.label:''","title":"PCA₂"}},
    "y":{"field":"p4","type":"quantitative","scale":{"domain":[-0.03,0.03],"nice":false},"axis":{"values":[-0.03,-0.02,-0.01,0,0.01,0.02,0.03],"labelExpr":"format(datum.value*100,'d')","title":"PCA₄"}},
    "order":{"field":"i"}}},
   {"mark":{"type":"line","opacity":0},"encoding":{
    "x":{"field":"p2","type":"quantitative","scale":{"domain":[-0.02,0.0156],"nice":false},"axis":{"orient":"top","values":[-0.02,-0.015,-0.01,-0.005,0,0.005,0.01,0.015],"title":null}},
    "y":{"field":"p4","type":"quantitative","scale":{"domain":[-0.03,0.03],"nice":false},"axis":{"orient":"right","values":[-0.03,-0.02,-0.01,0,0.01,0.02,0.03],"title":null}}}}
  ]},
  {"width":78,"height":86,"data":{"name":"lin"},"title":"1e−2","resolve":{"axis":{"x":"independent","y":"independent"}},"layer":[
   {"mark":{"type":"line","strokeWidth":1.2},"encoding":{
    "x":{"field":"p3","type":"quantitative","scale":{"domain":[-0.02,0.04],"nice":false},"axis":{"values":[-0.02,-0.01,0,0.01,0.02,0.03,0.04],"format":".2f","labelExpr":"round(datum.index*6)%3==0?datum.label:''","title":"PCA₃"}},
    "y":{"field":"p4","type":"quantitative","scale":{"domain":[-0.03,0.03],"nice":false},"axis":{"values":[-0.03,-0.02,-0.01,0,0.01,0.02,0.03],"labelExpr":"format(datum.value*100,'d')","title":"PCA₄"}},
    "order":{"field":"i"}}},
   {"mark":{"type":"line","opacity":0},"encoding":{
    "x":{"field":"p3","type":"quantitative","scale":{"domain":[-0.02,0.04],"nice":false},"axis":{"orient":"top","values":[-0.02,-0.01,0,0.01,0.02,0.03,0.04],"title":null}},
    "y":{"field":"p4","type":"quantitative","scale":{"domain":[-0.03,0.03],"nice":false},"axis":{"orient":"right","values":[-0.03,-0.02,-0.01,0,0.01,0.02,0.03],"title":null}}}}
  ]},
  {"width":78,"height":86,"view":{"stroke":null},"data":{"values":[{}]},"mark":{"type":"text"},"encoding":{"text":{"value":""}}},
  {"width":78,"height":86,"data":{"name":"lin"},"title":"1e−2","resolve":{"axis":{"x":"independent","y":"independent"}},"layer":[
   {"mark":{"type":"line","strokeWidth":1.5},"encoding":{
    "x":{"field":"p1","type":"quantitative","scale":{"domain":[-0.06,0.06],"nice":false},"axis":{"values":[-0.06,-0.03,0,0.03,0.06],"format":".2f","labelExpr":"round(datum.index*4)%2==0?datum.label:''","title":"PCA₁"}},
    "y":{"field":"p5","type":"quantitative","scale":{"domain":[-0.03,0.03],"nice":false},"axis":{"values":[-0.03,-0.02,-0.01,0,0.01,0.02,0.03],"labelExpr":"format(datum.value*100,'d')","title":"PCA₅"}},
    "order":{"field":"i"}}},
   {"mark":{"type":"line","opacity":0},"encoding":{
    "x":{"field":"p1","type":"quantitative","scale":{"domain":[-0.06,0.06],"nice":false},"axis":{"orient":"top","values":[-0.06,-0.03,0,0.03,0.06],"title":null}},
    "y":{"field":"p5","type":"quantitative","scale":{"domain":[-0.03,0.03],"nice":false},"axis":{"orient":"right","values":[-0.03,-0.02,-0.01,0,0.01,0.02,0.03],"title":null}}}}
  ]},
  {"width":78,"height":86,"data":{"name":"lin"},"title":"1e−2","resolve":{"axis":{"x":"independent","y":"independent"}},"layer":[
   {"mark":{"type":"line","strokeWidth":1.5},"encoding":{
    "x":{"field":"p2","type":"quantitative","scale":{"domain":[-0.02,0.0156],"nice":false},"axis":{"values":[-0.02,-0.015,-0.01,-0.005,0,0.005,0.01,0.015],"format":".3f","labelExpr":"round(datum.index*7)%3==0?datum.label:''","title":"PCA₂"}},
    "y":{"field":"p5","type":"quantitative","scale":{"domain":[-0.03,0.03],"nice":false},"axis":{"values":[-0.03,-0.02,-0.01,0,0.01,0.02,0.03],"labelExpr":"format(datum.value*100,'d')","title":"PCA₅"}},
    "order":{"field":"i"}}},
   {"mark":{"type":"line","opacity":0},"encoding":{
    "x":{"field":"p2","type":"quantitative","scale":{"domain":[-0.02,0.0156],"nice":false},"axis":{"orient":"top","values":[-0.02,-0.015,-0.01,-0.005,0,0.005,0.01,0.015],"title":null}},
    "y":{"field":"p5","type":"quantitative","scale":{"domain":[-0.03,0.03],"nice":false},"axis":{"orient":"right","values":[-0.03,-0.02,-0.01,0,0.01,0.02,0.03],"title":null}}}}
  ]},
  {"width":78,"height":86,"data":{"name":"lin"},"title":"1e−2","resolve":{"axis":{"x":"independent","y":"independent"}},"layer":[
   {"mark":{"type":"line","strokeWidth":1.2},"encoding":{
    "x":{"field":"p3","type":"quantitative","scale":{"domain":[-0.02,0.04],"nice":false},"axis":{"values":[-0.02,-0.01,0,0.01,0.02,0.03,0.04],"format":".2f","labelExpr":"round(datum.index*6)%3==0?datum.label:''","title":"PCA₃"}},
    "y":{"field":"p5","type":"quantitative","scale":{"domain":[-0.03,0.03],"nice":false},"axis":{"values":[-0.03,-0.02,-0.01,0,0.01,0.02,0.03],"labelExpr":"format(datum.value*100,'d')","title":"PCA₅"}},
    "order":{"field":"i"}}},
   {"mark":{"type":"line","opacity":0},"encoding":{
    "x":{"field":"p3","type":"quantitative","scale":{"domain":[-0.02,0.04],"nice":false},"axis":{"orient":"top","values":[-0.02,-0.01,0,0.01,0.02,0.03,0.04],"title":null}},
    "y":{"field":"p5","type":"quantitative","scale":{"domain":[-0.03,0.03],"nice":false},"axis":{"orient":"right","values":[-0.03,-0.02,-0.01,0,0.01,0.02,0.03],"title":null}}}}
  ]},
  {"width":78,"height":86,"data":{"name":"lin"},"title":"1e−2","resolve":{"axis":{"x":"independent","y":"independent"}},"layer":[
   {"mark":{"type":"line","strokeWidth":1.2},"encoding":{
    "x":{"field":"p4","type":"quantitative","scale":{"domain":[-0.03,0.03],"nice":false},"axis":{"values":[-0.03,-0.015,0,0.015,0.03],"format":".2f","labelExpr":"round(datum.index*4)%2==0?datum.label:''","title":"PCA₄"}},
    "y":{"field":"p5","type":"quantitative","scale":{"domain":[-0.03,0.03],"nice":false},"axis":{"values":[-0.03,-0.02,-0.01,0,0.01,0.02,0.03],"labelExpr":"format(datum.value*100,'d')","title":"PCA₅"}},
    "order":{"field":"i"}}},
   {"mark":{"type":"line","opacity":0},"encoding":{
    "x":{"field":"p4","type":"quantitative","scale":{"domain":[-0.03,0.03],"nice":false},"axis":{"orient":"top","values":[-0.03,-0.015,0,0.015,0.03],"title":null}},
    "y":{"field":"p5","type":"quantitative","scale":{"domain":[-0.03,0.03],"nice":false},"axis":{"orient":"right","values":[-0.03,-0.02,-0.01,0,0.01,0.02,0.03],"title":null}}}}
  ]}
]},
{"bounds":"flush","columns":4,"spacing":{"row":43,"column":58},"concat":[
  {"width":76,"height":86,"data":{"name":"res"},"title":"1e3","resolve":{"axis":{"x":"independent","y":"independent"}},"layer":[
   {"mark":{"type":"line","strokeWidth":1.1,"interpolate":"catmull-rom"},"encoding":{
    "x":{"field":"r1","type":"quantitative","scale":{"domain":[-82000,82000],"nice":false},"axis":{"values":[-80000,-50000,-20000,10000,40000,70000],"format":"d","labelFontSize":6.5,"labelExpr":"round(datum.index*5)%2==0?datum.label:''","title":"PCA₁"}},
    "y":{"field":"r2","type":"quantitative","scale":{"domain":[-1000,1000],"nice":false},"axis":{"values":[-1000,-500,0,500,1000],"labelExpr":"format(datum.value/1000,'.1f')","title":"PCA₂"}},
    "order":{"field":"k"}}},
   {"mark":{"type":"line","opacity":0},"encoding":{
    "x":{"field":"r1","type":"quantitative","scale":{"domain":[-82000,82000],"nice":false},"axis":{"orient":"top","values":[-80000,-50000,-20000,10000,40000,70000],"title":null}},
    "y":{"field":"r2","type":"quantitative","scale":{"domain":[-1000,1000],"nice":false},"axis":{"orient":"right","values":[-1000,-500,0,500,1000],"title":null}}}}
  ]},
  {"width":76,"height":86,"view":{"stroke":null},"data":{"values":[{}]},"mark":{"type":"text"},"encoding":{"text":{"value":""}}},
  {"width":76,"height":86,"view":{"stroke":null},"data":{"values":[{}]},"mark":{"type":"text"},"encoding":{"text":{"value":""}}},
  {"width":76,"height":86,"view":{"stroke":null},"data":{"values":[{}]},"mark":{"type":"text"},"encoding":{"text":{"value":""}}},
  {"width":76,"height":86,"data":{"name":"res"},"title":"1e2","resolve":{"axis":{"x":"independent","y":"independent"}},"layer":[
   {"mark":{"type":"line","strokeWidth":1.1,"interpolate":"catmull-rom"},"encoding":{
    "x":{"field":"r1","type":"quantitative","scale":{"domain":[-82000,82000],"nice":false},"axis":{"values":[-80000,-50000,-20000,10000,40000,70000],"format":"d","labelFontSize":6.5,"labelExpr":"round(datum.index*5)%2==0?datum.label:''","title":"PCA₁"}},
    "y":{"field":"r3","type":"quantitative","scale":{"domain":[-800,800],"nice":false},"axis":{"values":[-800,-600,-400,-200,0,200,400,600,800],"labelExpr":"format(datum.value/100,'d')","title":"PCA₃"}},
    "order":{"field":"k"}}},
   {"mark":{"type":"line","opacity":0},"encoding":{
    "x":{"field":"r1","type":"quantitative","scale":{"domain":[-82000,82000],"nice":false},"axis":{"orient":"top","values":[-80000,-50000,-20000,10000,40000,70000],"title":null}},
    "y":{"field":"r3","type":"quantitative","scale":{"domain":[-800,800],"nice":false},"axis":{"orient":"right","values":[-800,-600,-400,-200,0,200,400,600,800],"title":null}}}}
  ]},
  {"width":76,"height":86,"data":{"name":"res"},"title":"1e2","resolve":{"axis":{"x":"independent","y":"independent"}},"layer":[
   {"mark":{"type":"line","strokeWidth":1.1,"interpolate":"catmull-rom"},"encoding":{
    "x":{"field":"r2","type":"quantitative","scale":{"domain":[-1000,1000],"nice":false},"axis":{"values":[-1000,-500,0,500,1000],"format":"d","labelExpr":"round(datum.index*4)%3==0?datum.label:''","title":"PCA₂"}},
    "y":{"field":"r3","type":"quantitative","scale":{"domain":[-800,800],"nice":false},"axis":{"values":[-800,-600,-400,-200,0,200,400,600,800],"labelExpr":"format(datum.value/100,'d')","title":"PCA₃"}},
    "order":{"field":"k"}}},
   {"mark":{"type":"line","opacity":0},"encoding":{
    "x":{"field":"r2","type":"quantitative","scale":{"domain":[-1000,1000],"nice":false},"axis":{"orient":"top","values":[-1000,-500,0,500,1000],"title":null}},
    "y":{"field":"r3","type":"quantitative","scale":{"domain":[-800,800],"nice":false},"axis":{"orient":"right","values":[-800,-600,-400,-200,0,200,400,600,800],"title":null}}}}
  ]},
  {"width":76,"height":86,"view":{"stroke":null},"data":{"values":[{"label":"ResNet-50-v2"}]},"mark":{"type":"text","font":"DejaVu Sans","fontSize":20,"angle":42,"align":"center","baseline":"middle","dx":6,"dy":-38,"color":"black"},"encoding":{"text":{"field":"label","type":"nominal"}}},
  {"width":76,"height":86,"view":{"stroke":null},"data":{"values":[{}]},"mark":{"type":"text"},"encoding":{"text":{"value":""}}},
  {"width":76,"height":86,"data":{"name":"res"},"title":"1e2","resolve":{"axis":{"x":"independent","y":"independent"}},"layer":[
   {"mark":{"type":"line","strokeWidth":1.1,"interpolate":"catmull-rom"},"encoding":{
    "x":{"field":"r1","type":"quantitative","scale":{"domain":[-82000,82000],"nice":false},"axis":{"values":[-80000,-50000,-20000,10000,40000,70000],"format":"d","labelFontSize":6.5,"labelExpr":"round(datum.index*5)%2==0?datum.label:''","title":"PCA₁"}},
    "y":{"field":"r4","type":"quantitative","scale":{"domain":[-600,600],"nice":false},"axis":{"values":[-600,-400,-200,0,200,400,600],"labelExpr":"format(datum.value/100,'d')","title":"PCA₄"}},
    "order":{"field":"k"}}},
   {"mark":{"type":"line","opacity":0},"encoding":{
    "x":{"field":"r1","type":"quantitative","scale":{"domain":[-82000,82000],"nice":false},"axis":{"orient":"top","values":[-80000,-50000,-20000,10000,40000,70000],"title":null}},
    "y":{"field":"r4","type":"quantitative","scale":{"domain":[-600,600],"nice":false},"axis":{"orient":"right","values":[-600,-400,-200,0,200,400,600],"title":null}}}}
  ]},
  {"width":76,"height":86,"data":{"name":"res"},"title":"1e2","resolve":{"axis":{"x":"independent","y":"independent"}},"layer":[
   {"mark":{"type":"line","strokeWidth":1.1,"interpolate":"catmull-rom"},"encoding":{
    "x":{"field":"r2","type":"quantitative","scale":{"domain":[-1000,1000],"nice":false},"axis":{"values":[-1000,-500,0,500,1000],"format":"d","labelExpr":"round(datum.index*4)%3==0?datum.label:''","title":"PCA₂"}},
    "y":{"field":"r4","type":"quantitative","scale":{"domain":[-600,600],"nice":false},"axis":{"values":[-600,-400,-200,0,200,400,600],"labelExpr":"format(datum.value/100,'d')","title":"PCA₄"}},
    "order":{"field":"k"}}},
   {"mark":{"type":"line","opacity":0},"encoding":{
    "x":{"field":"r2","type":"quantitative","scale":{"domain":[-1000,1000],"nice":false},"axis":{"orient":"top","values":[-1000,-500,0,500,1000],"title":null}},
    "y":{"field":"r4","type":"quantitative","scale":{"domain":[-600,600],"nice":false},"axis":{"orient":"right","values":[-600,-400,-200,0,200,400,600],"title":null}}}}
  ]},
  {"width":76,"height":86,"data":{"name":"res"},"title":"1e2","resolve":{"axis":{"x":"independent","y":"independent"}},"layer":[
   {"mark":{"type":"line","strokeWidth":1.1,"interpolate":"catmull-rom"},"encoding":{
    "x":{"field":"r3","type":"quantitative","scale":{"domain":[-800,740],"nice":false},"axis":{"values":[-800,-500,-200,100,400,700],"format":"d","labelExpr":"round(datum.index*5)%2==0?datum.label:''","title":"PCA₃"}},
    "y":{"field":"r4","type":"quantitative","scale":{"domain":[-600,600],"nice":false},"axis":{"values":[-600,-400,-200,0,200,400,600],"labelExpr":"format(datum.value/100,'d')","title":"PCA₄"}},
    "order":{"field":"k"}}},
   {"mark":{"type":"line","opacity":0},"encoding":{
    "x":{"field":"r3","type":"quantitative","scale":{"domain":[-800,740],"nice":false},"axis":{"orient":"top","values":[-800,-500,-200,100,400,700],"title":null}},
    "y":{"field":"r4","type":"quantitative","scale":{"domain":[-600,600],"nice":false},"axis":{"orient":"right","values":[-600,-400,-200,0,200,400,600],"title":null}}}}
  ]},
  {"width":76,"height":86,"view":{"stroke":null},"data":{"values":[{}]},"mark":{"type":"text"},"encoding":{"text":{"value":""}}},
  {"width":76,"height":86,"data":{"name":"res"},"title":"1e2","resolve":{"axis":{"x":"independent","y":"independent"}},"layer":[
   {"mark":{"type":"line","strokeWidth":1.1,"interpolate":"catmull-rom"},"encoding":{
    "x":{"field":"r1","type":"quantitative","scale":{"domain":[-82000,82000],"nice":false},"axis":{"values":[-80000,-50000,-20000,10000,40000,70000],"format":"d","labelFontSize":6.5,"labelExpr":"round(datum.index*5)%2==0?datum.label:''","title":"PCA₁"}},
    "y":{"field":"r5","type":"quantitative","scale":{"domain":[-400,500],"nice":false},"axis":{"values":[-400,-300,-200,-100,0,100,200,300,400,500],"labelExpr":"format(datum.value/100,'d')","title":"PCA₅"}},
    "order":{"field":"k"}}},
   {"mark":{"type":"line","opacity":0},"encoding":{
    "x":{"field":"r1","type":"quantitative","scale":{"domain":[-82000,82000],"nice":false},"axis":{"orient":"top","values":[-80000,-50000,-20000,10000,40000,70000],"title":null}},
    "y":{"field":"r5","type":"quantitative","scale":{"domain":[-400,500],"nice":false},"axis":{"orient":"right","values":[-400,-300,-200,-100,0,100,200,300,400,500],"title":null}}}}
  ]},
  {"width":76,"height":86,"data":{"name":"res"},"title":"1e2","resolve":{"axis":{"x":"independent","y":"independent"}},"layer":[
   {"mark":{"type":"line","strokeWidth":1.1,"interpolate":"catmull-rom"},"encoding":{
    "x":{"field":"r2","type":"quantitative","scale":{"domain":[-1000,1000],"nice":false},"axis":{"values":[-1000,-500,0,500,1000],"format":"d","labelExpr":"round(datum.index*4)%3==0?datum.label:''","title":"PCA₂"}},
    "y":{"field":"r5","type":"quantitative","scale":{"domain":[-400,500],"nice":false},"axis":{"values":[-400,-300,-200,-100,0,100,200,300,400,500],"labelExpr":"format(datum.value/100,'d')","title":"PCA₅"}},
    "order":{"field":"k"}}},
   {"mark":{"type":"line","opacity":0},"encoding":{
    "x":{"field":"r2","type":"quantitative","scale":{"domain":[-1000,1000],"nice":false},"axis":{"orient":"top","values":[-1000,-500,0,500,1000],"title":null}},
    "y":{"field":"r5","type":"quantitative","scale":{"domain":[-400,500],"nice":false},"axis":{"orient":"right","values":[-400,-300,-200,-100,0,100,200,300,400,500],"title":null}}}}
  ]},
  {"width":76,"height":86,"data":{"name":"res"},"title":"1e2","resolve":{"axis":{"x":"independent","y":"independent"}},"layer":[
   {"mark":{"type":"line","strokeWidth":1.1,"interpolate":"catmull-rom"},"encoding":{
    "x":{"field":"r3","type":"quantitative","scale":{"domain":[-800,740],"nice":false},"axis":{"values":[-800,-500,-200,100,400,700],"format":"d","labelExpr":"round(datum.index*5)%2==0?datum.label:''","title":"PCA₃"}},
    "y":{"field":"r5","type":"quantitative","scale":{"domain":[-400,500],"nice":false},"axis":{"values":[-400,-300,-200,-100,0,100,200,300,400,500],"labelExpr":"format(datum.value/100,'d')","title":"PCA₅"}},
    "order":{"field":"k"}}},
   {"mark":{"type":"line","opacity":0},"encoding":{
    "x":{"field":"r3","type":"quantitative","scale":{"domain":[-800,740],"nice":false},"axis":{"orient":"top","values":[-800,-500,-200,100,400,700],"title":null}},
    "y":{"field":"r5","type":"quantitative","scale":{"domain":[-400,500],"nice":false},"axis":{"orient":"right","values":[-400,-300,-200,-100,0,100,200,300,400,500],"title":null}}}}
  ]},
  {"width":76,"height":86,"data":{"name":"res"},"title":"1e2","resolve":{"axis":{"x":"independent","y":"independent"}},"layer":[
   {"mark":{"type":"line","strokeWidth":1.1,"interpolate":"catmull-rom"},"encoding":{
    "x":{"field":"r4","type":"quantitative","scale":{"domain":[-600,600],"nice":false},"axis":{"values":[-600,-300,0,300,600],"format":"d","labelExpr":"round(datum.index*4)%2==0?datum.label:''","title":"PCA₄"}},
    "y":{"field":"r5","type":"quantitative","scale":{"domain":[-400,500],"nice":false},"axis":{"values":[-400,-300,-200,-100,0,100,200,300,400,500],"labelExpr":"format(datum.value/100,'d')","title":"PCA₅"}},
    "order":{"field":"k"}}},
   {"mark":{"type":"line","opacity":0},"encoding":{
    "x":{"field":"r4","type":"quantitative","scale":{"domain":[-600,600],"nice":false},"axis":{"orient":"top","values":[-600,-300,0,300,600],"title":null}},
    "y":{"field":"r5","type":"quantitative","scale":{"domain":[-400,500],"nice":false},"axis":{"orient":"right","values":[-400,-300,-200,-100,0,100,200,300,400,500],"title":null}}}}
  ]}
]}
]
}
